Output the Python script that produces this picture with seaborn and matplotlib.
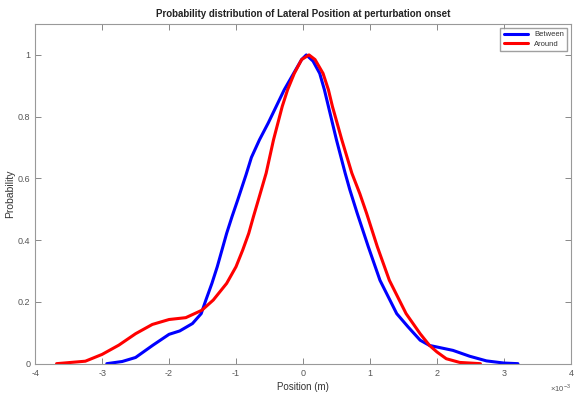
import numpy as np
import pandas as pd
import matplotlib
matplotlib.use("Agg")
import matplotlib.pyplot as plt
import matplotlib.ticker as mticker
import seaborn as sns

# Position values in units of 1e-3 m, probability values
between_x = [-2.93, -2.7, -2.5, -2.24, -2.0, -1.84, -1.65, -1.52, -1.45, -1.36, -1.28,
             -1.21, -1.14, -1.06, -0.975, -0.85, -0.77, -0.65, -0.52, -0.40, -0.28,
             -0.14, -0.02, 0.05, 0.15, 0.25, 0.32, 0.38, 0.50, 0.63, 0.70, 0.81, 0.975,
             1.15, 1.40, 1.57, 1.75, 1.89, 2.0, 2.24, 2.49, 2.74, 3.0, 3.21]
between_y = [0.0, 0.007, 0.02, 0.06, 0.095, 0.106, 0.13, 0.162, 0.206, 0.26, 0.314,
             0.368, 0.422, 0.476, 0.53, 0.612, 0.668, 0.725, 0.779, 0.833, 0.887,
             0.94, 0.985, 1.0, 0.98, 0.94, 0.887, 0.833, 0.725, 0.617, 0.563, 0.487, 0.379,
             0.27, 0.162, 0.119, 0.076, 0.059, 0.054, 0.043, 0.024, 0.009, 0.002, 0.0]

around_x = [-3.68, -3.25, -3.0, -2.75, -2.5, -2.25, -2.0, -1.75, -1.51, -1.34, -1.14,
            -1.0, -0.90, -0.81, -0.74, -0.66, -0.55, -0.44, -0.31, -0.23, -0.13, -0.02,
            0.09, 0.18, 0.30, 0.38, 0.44, 0.58, 0.73, 0.85, 0.95, 1.11, 1.29, 1.54,
            1.75, 1.89, 2.0, 2.14, 2.34, 2.65]
around_y = [0.0, 0.008, 0.03, 0.06, 0.097, 0.127, 0.143, 0.149, 0.173, 0.206, 0.26,
            0.314, 0.368, 0.422, 0.476, 0.535, 0.617, 0.725, 0.833, 0.887, 0.94, 0.985,
            1.0, 0.985, 0.94, 0.887, 0.833, 0.725, 0.617, 0.55, 0.487, 0.379, 0.27, 0.162,
            0.097, 0.059, 0.038, 0.016, 0.004, 0.0]

series_names = ["Between", "Around"]
series_colors = ["#0000ff", "#ff0000"]
x_ticks = [-4, -3, -2, -1, 0, 1, 2, 3, 4]
y_ticks = [0, 0.2, 0.4, 0.6, 0.8, 1.0]

df = pd.concat([
    pd.DataFrame({"x": np.array(between_x) * 1e-3, "y": between_y, "s": "Between"}),
    pd.DataFrame({"x": np.array(around_x) * 1e-3, "y": around_y, "s": "Around"}),
])

sns.set_theme(style="white")
plt.rcParams["font.family"] = ["Liberation Sans", "DejaVu Sans"]
plt.rcParams["axes.unicode_minus"] = False

fig = plt.figure(figsize=(5.76, 3.94), dpi=100)
ax = fig.add_axes([0.061, 0.077, 0.930, 0.862])

sns.lineplot(data=df, x="x", y="y", hue="s", hue_order=series_names,
             palette=dict(zip(series_names, series_colors)), linewidth=2.2,
             sort=False, estimator=None, ax=ax)
for ln in ax.lines:
    ln.set_solid_joinstyle("round")

ax.set_xlim(-4e-3, 4e-3)
ax.set_ylim(0, 1.1)
ax.set_xticks(np.array(x_ticks) * 1e-3)
ax.set_yticks(y_ticks)
ax.xaxis.set_major_formatter(mticker.FuncFormatter(lambda v, p: f"{round(v * 1e3):d}"))
ax.yaxis.set_major_formatter(mticker.FuncFormatter(lambda v, p: f"{v:g}"))

gray = "#555555"
for sp in ax.spines.values():
    sp.set_color("#999999")
    sp.set_linewidth(0.8)
ax.tick_params(axis="both", direction="in", length=4, width=0.7, colors="#888888",
               labelcolor=gray, labelsize=6.5, top=True, right=True, bottom=True, left=True)

# exponent marker as in the original (x values are in metres)
ax.text(1.0, -0.055, "×10$^{\\mathregular{-3}}$", transform=ax.transAxes, ha="right",
        va="top", fontsize=5.5, color=gray)

ax.set_title("Probability distribution of Lateral Position at perturbation onset",
             fontsize=7, fontweight="bold", color="#222222", pad=5)
ax.set_xlabel("Position (m)", fontsize=7, color="#333333", labelpad=3)
ax.set_ylabel("Probability", fontsize=7.5, color="#333333")
ax.yaxis.set_label_coords(-0.037, 0.5)

leg = ax.legend(loc="upper right", fontsize=5.5, frameon=True, fancybox=False,
                edgecolor="#888888", handlelength=3.2, borderpad=0.4, labelspacing=0.3)
leg.set_title(None)
for t in leg.get_texts():
    t.set_color("#333333")

fig.savefig("out.png", dpi=100, facecolor="white")
